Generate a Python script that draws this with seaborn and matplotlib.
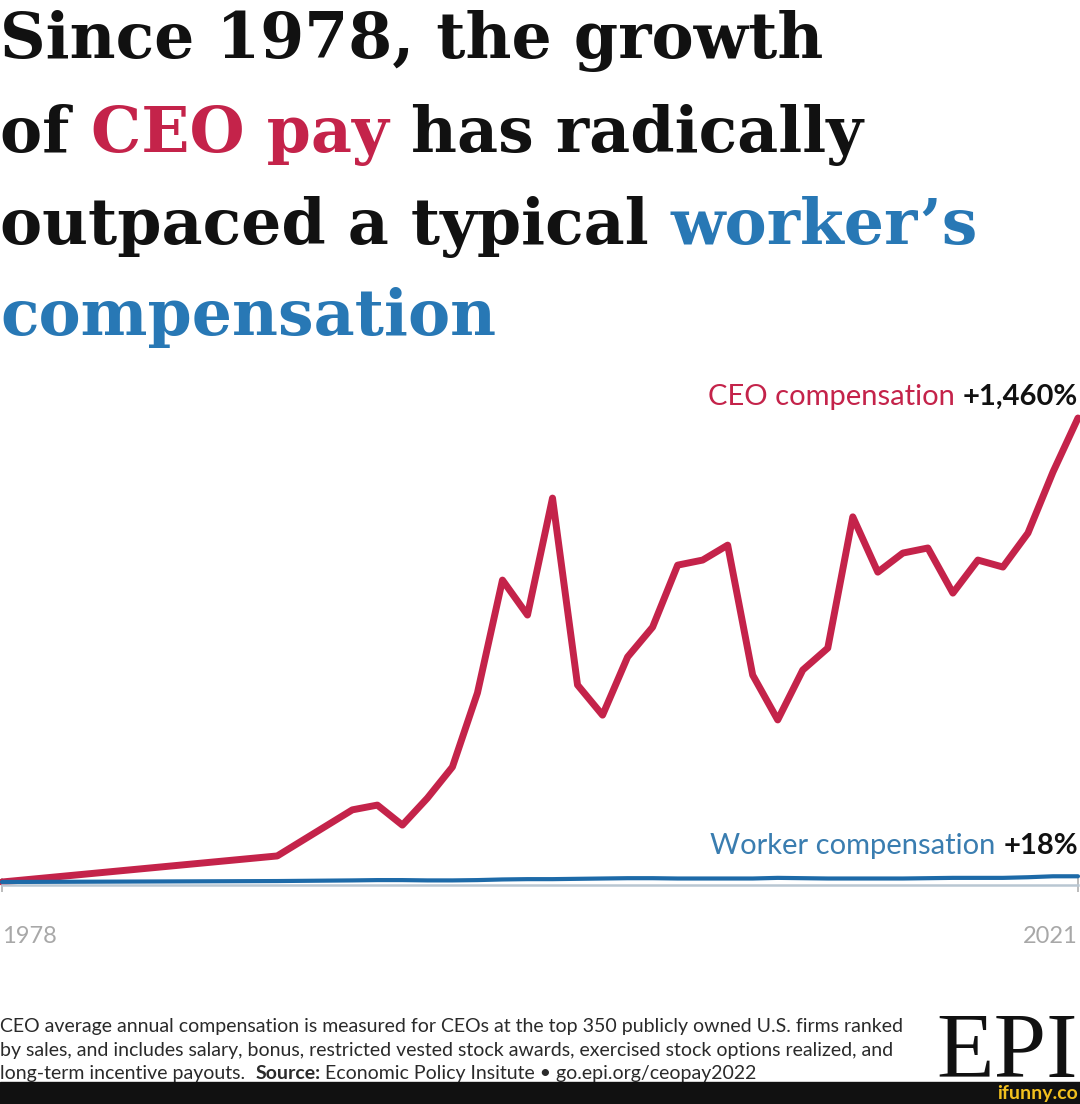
import numpy as np
import pandas as pd
import matplotlib
matplotlib.use("Agg")
import matplotlib.pyplot as plt
import seaborn as sns
from matplotlib.patches import Rectangle

# data (percent growth since 1978)
years = [1978, 1989, 1992, 1993, 1994, 1995, 1996, 1997, 1998, 1999, 2000,
         2001, 2002, 2003, 2004, 2005, 2006, 2007, 2008, 2009, 2010,
         2011, 2012, 2013, 2014, 2015, 2016, 2017, 2018, 2019, 2020, 2021]
ceo_pct = [0, 82, 227, 242, 179, 264, 362, 595, 950, 840, 1208,
           620, 525, 708, 802, 997, 1013, 1060, 651, 510, 667,
           736, 1149, 975, 1035, 1051, 909, 1013, 991, 1098, 1290, 1460]
worker_pct = [0, 3, 5, 6, 6, 5, 5, 6, 8, 9, 9,
              10, 11, 12, 12, 11, 11, 11, 11, 13, 12,
              11, 11, 11, 11, 12, 13, 13, 13, 15, 18, 18]
tick_years = [1978, 2021]

RED = "#c4234a"
BLUE = "#2878b5"
WBLUE = "#1d6aa8"
INK = "#111111"

df = pd.DataFrame({"year": years, "ceo": ceo_pct, "worker": worker_pct})

sns.set_theme(style="white")
plt.rcParams["font.family"] = ["Lato", "DejaVu Sans"]

W, H = 1080, 1104
fig = plt.figure(figsize=(W / 100, H / 100), dpi=100)
fig.patch.set_facecolor("white")
renderer = fig.canvas.get_renderer()


def put_pieces(x, y, pieces, align="left", **common):
    # place differently styled text pieces one after another on a baseline
    seq = pieces if align == "left" else pieces[::-1]
    cur = x
    for text, style in seq:
        t = fig.text(cur / W, 1 - y / H, text, ha=align, va="baseline", **common, **style)
        bb = t.get_window_extent(renderer=renderer)
        cur = bb.x1 if align == "left" else bb.x0


# title
tfont = dict(family="DejaVu Serif", fontweight="bold", fontsize=45.5)
put_pieces(0, 58, [("Since 1978, the growth", dict(color=INK))], **tfont)
put_pieces(0, 152, [("of ", dict(color=INK)), ("CEO pay", dict(color=RED)),
                    (" has radically", dict(color=INK))], **tfont)
put_pieces(0, 244, [("outpaced a typical ", dict(color=INK)),
                    ("worker\u2019s", dict(color=BLUE))], **tfont)
put_pieces(0, 335, [("compensation", dict(color=BLUE))], **tfont)

# chart
ax = fig.add_axes([2 / W, (H - 882) / H, 1076 / W, 464 / H])
sns.lineplot(data=df, x="year", y="ceo", ax=ax, color=RED, linewidth=5, clip_on=False)
sns.lineplot(data=df, x="year", y="worker", ax=ax, color=WBLUE, linewidth=3, clip_on=False)
ax.set_xlim(1978, 2021)
ax.set_ylim(0, 1460)
ax.set_xlabel("")
ax.set_ylabel("")
ax.set_yticks([])
for s in ["top", "left", "right"]:
    ax.spines[s].set_visible(False)
ax.spines["bottom"].set_position(("outward", 2.5))
ax.spines["bottom"].set_color("#b9c7d2")
ax.spines["bottom"].set_linewidth(1.8)
ax.set_xticks(tick_years)
ax.set_xticklabels([str(y) for y in tick_years])
ax.tick_params(axis="x", direction="inout", length=10, width=1.2, color="#b0b0b0",
               pad=24, labelsize=17, labelcolor="#a8a8a8", bottom=True)
labs = ax.get_xticklabels()
labs[0].set_ha("left")
labs[-1].set_ha("right")
ax.patch.set_alpha(0)

# series labels
put_pieces(1078, 405, [("CEO compensation ", dict(color=RED)),
                       ("+1,460%", dict(color=INK, fontweight="bold"))],
           align="right", fontsize=21)
put_pieces(1078, 854, [("Worker compensation ", dict(color="#3a7db0")),
                       ("+18%", dict(color=INK, fontweight="bold"))],
           align="right", fontsize=21)

# footnote
nfont = dict(fontsize=14, color="#2a2a2a")
put_pieces(0, 1032, [("CEO average annual compensation is measured for CEOs at the top 350 "
                      "publicly owned U.S. firms ranked", {})], **nfont)
put_pieces(0, 1056, [("by sales, and includes salary, bonus, restricted vested stock awards, "
                      "exercised stock options realized, and", {})], **nfont)
put_pieces(0, 1079, [("long-term incentive payouts.  ", {}), ("Source:", dict(fontweight="bold")),
                     (" Economic Policy Insitute \u2022 go.epi.org/ceopay2022", {})], **nfont)

# logo + bottom bar
fig.text(1078 / W, 1 - 1077 / H, "EPI", ha="right", va="baseline",
         family="Liberation Serif", fontsize=68, color="#111111")
fig.patches.append(Rectangle((0, 0), 1, 22 / H, transform=fig.transFigure,
                             color="#111111", zorder=5))
fig.text(1078 / W, 1 - 1099 / H, "ifunny.co", ha="right", va="baseline",
         fontsize=14, fontweight="bold", color="#f2c01e", zorder=6)

fig.savefig("out.png", dpi=100)
